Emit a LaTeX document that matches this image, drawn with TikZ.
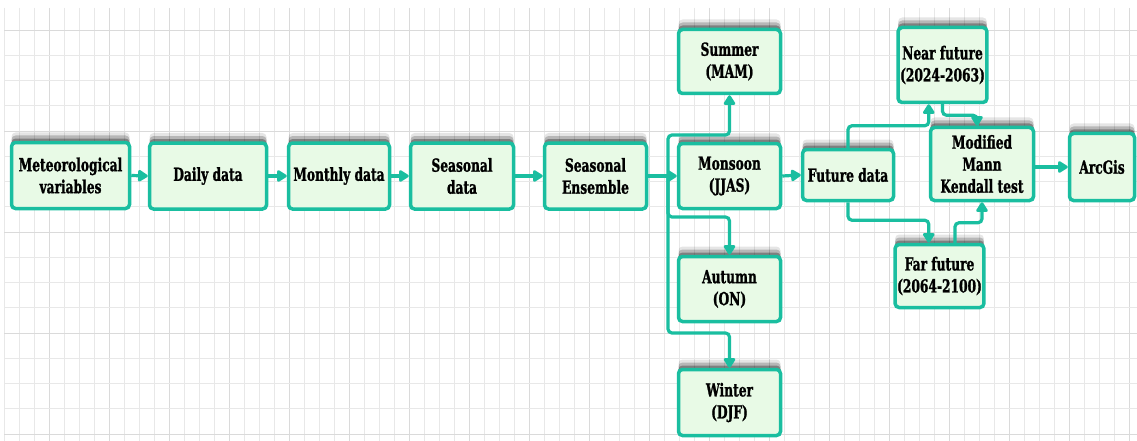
\documentclass[tikz,border=0pt]{standalone}
\usepackage{fontspec}
\setmainfont{DejaVu Serif}[FakeStretch=0.68,FakeBold=1.2]
\usetikzlibrary{arrows.meta,shadows}
\definecolor{tealc}{RGB}{26,190,160}
\definecolor{fillc}{RGB}{232,250,230}
\definecolor{gridc}{RGB}{232,232,232}
\definecolor{gridd}{RGB}{218,218,218}
\tikzset{
  boxshadow/.style={
    general shadow={shadow yshift=10pt, opacity=0.10, fill=black},
    general shadow={shadow yshift=7pt, opacity=0.20, fill=black},
    general shadow={shadow yshift=4pt, opacity=0.30, fill=black}},
  box/.style={boxshadow, draw=tealc, fill=fillc, line width=3.5pt, rounded corners=4pt,
    align=center, inner sep=2pt, font=\bfseries\fontsize{18}{22}\selectfont},
  arr/.style={draw=tealc, line width=3.2pt, rounded corners=4pt,
    -{Triangle[length=11pt,width=13pt,round=false]}},
  gridline/.style={draw=gridc, line width=0.8pt},
  gridline2/.style={draw=gridd, line width=0.8pt}
}
\begin{document}
\begin{tikzpicture}[x=1pt,y=-1pt]
\useasboundingbox (0,0) rectangle (1137,441);
\fill[white] (0,0) rectangle (1137,441);
% grid
\foreach \i in {0,...,75}{
  \pgfmathsetmacro{\xx}{4+15*\i}
  \pgfmathtruncatemacro{\mm}{mod(\i,4)}
  \ifnum\mm=3 \draw[gridline2] (\xx,8) -- (\xx,441);
  \else \draw[gridline] (\xx,8) -- (\xx,441); \fi
}
\foreach \j in {1,...,17}{
  \pgfmathsetmacro{\yy}{4.75+25.25*\j}
  \pgfmathtruncatemacro{\mm}{mod(\j,4)}
  \ifnum\mm=1 \draw[gridline2] (4,\yy) -- (1137,\yy);
  \else \draw[gridline] (4,\yy) -- (1137,\yy); \fi
}
% nodes
\node[box, minimum width=118pt, minimum height=66pt] (met) at (70.5,175.5) {Meteorological\\variables};
\node[box, minimum width=117pt, minimum height=66pt] (daily) at (208,176) {Daily data};
\node[box, minimum width=101pt, minimum height=66pt] (monthly) at (339,176) {Monthly data};
\node[box, minimum width=103pt, minimum height=66pt] (sdata) at (462,176) {Seasonal\\data};
\node[box, minimum width=102pt, minimum height=66pt] (ens) at (595.5,176) {Seasonal\\Ensemble};
\node[box, minimum width=102pt, minimum height=64pt] (summer) at (729.5,61.5) {Summer\\(MAM)};
\node[box, minimum width=102pt, minimum height=65pt] (monsoon) at (729.5,176) {Monsoon\\(JJAS)};
\node[box, minimum width=102pt, minimum height=65pt] (autumn) at (729.5,289) {Autumn\\(ON)};
\node[box, minimum width=102pt, minimum height=66pt] (winter) at (729.5,402.5) {Winter\\(DJF)};
\node[box, minimum width=91pt, minimum height=51pt] (future) at (848,175) {Future data};
\node[box, minimum width=88pt, minimum height=75pt] (near) at (942.5,65) {Near future\\(2024-2063)};
\node[box, minimum width=103pt, minimum height=73pt] (mk) at (982,164) {Modified\\Mann\\Kendall test};
\node[box, minimum width=65pt, minimum height=67pt] (arcgis) at (1102,167) {ArcGis};
\node[box, minimum width=82pt, minimum height=63pt] (far) at (939.5,276) {Far future\\(2064-2100)};
% connectors
\coordinate (sp) at (668,176);
\draw[arr] (met.east) -- (daily.west);
\draw[arr] (daily.east) -- (monthly.west);
\draw[arr] (monthly.east) -- (sdata.west);
\draw[arr] (sdata.east) -- (ens.west);
\draw[arr] (ens.east) -- (monsoon.west);
\draw[arr] (sp) -- ++(0,-41) -| (summer.south);
\draw[arr] (sp) -- ++(0,41) -| (autumn.north);
\draw[arr] (sp) -- ++(0,157) -| (winter.north);
\draw[arr] (monsoon.east) -- (future.west);
\draw[arr] (future.north) -- ++(0,-22) -| (mk.west |- near.south);
\draw[arr] (future.south) -- ++(0,18) -| (mk.west |- far.north);
\draw[arr] (near.south) -- ++(0,11) -| ([xshift=-5pt]mk.north);
\draw[arr] ([xshift=15.5pt]far.north) -- ++(0,-20) -| (mk.south);
\draw[arr] (mk.east |- arcgis.west) -- (arcgis.west);
\end{tikzpicture}
\end{document}
